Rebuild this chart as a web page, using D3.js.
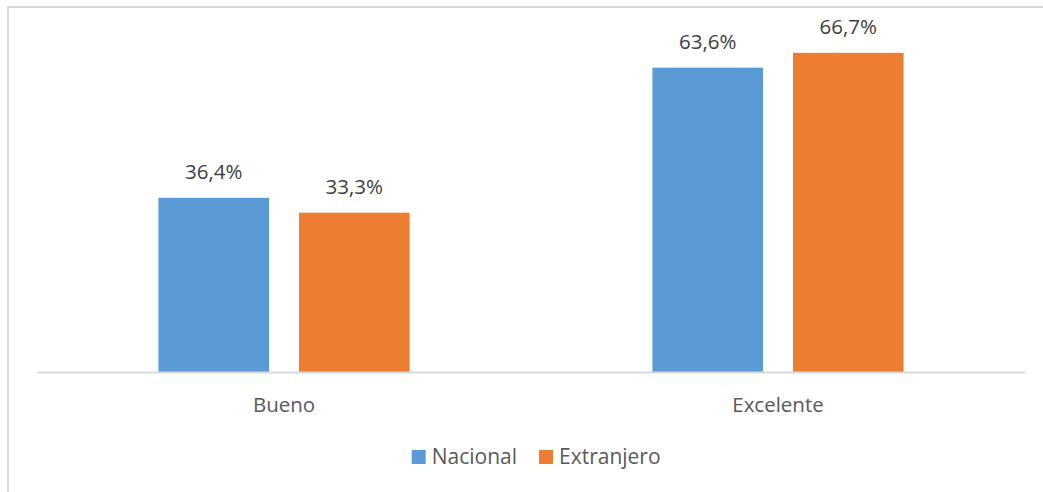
<!DOCTYPE html>
<html><head><meta charset="utf-8">
<script src="https://cdn.jsdelivr.net/npm/d3@7/dist/d3.min.js"></script>
<style>body{margin:0;background:#fff}svg{display:block}</style>
</head><body><svg id="c" width="1043" height="492"></svg>
<script>
const categories = ["Bueno", "Excelente"];
const seriesNames = ["Nacional", "Extranjero"];
const nacional = [36.4, 63.6];
const extranjero = [33.3, 66.7];
const colors = ["#5B9BD5", "#ED7D31"];

const svg = d3.select("#c");
const font = "'Open Sans', sans-serif";
// frame
svg.append("rect").attr("x", 8).attr("y", 7).attr("width", 1100).attr("height", 600)
  .attr("fill", "none").attr("stroke", "#d9d9d9").attr("stroke-width", 2);

const left = 37, right = 1025, base = 372;
const x0 = d3.scaleBand().domain(categories).range([left, right]).paddingInner(0).paddingOuter(0);
const y = d3.scaleLinear().domain([0, 70]).range([base, base - 70 * 4.785]);
const barW = 110.6, gap = 30;

const data = categories.map((c, i) => ({c, vals: [nacional[i], extranjero[i]]}));
data.forEach(d => {
  const cx = x0(d.c) + x0.bandwidth() / 2;
  d.vals.forEach((v, j) => {
    const bx = j === 0 ? cx - gap / 2 - barW : cx + gap / 2;
    svg.append("rect").attr("x", bx).attr("y", y(v)).attr("width", barW).attr("height", base - y(v))
      .attr("fill", colors[j]);
    svg.append("text").attr("x", bx + barW / 2).attr("y", y(v) - 18.5)
      .attr("text-anchor", "middle").attr("font-family", font).attr("font-size", 20.5)
      .attr("fill", "#404040").text(d3.format(".1f")(v).replace(".", ",") + "%");
  });
});

// axis
const ax = svg.append("g").attr("transform", `translate(0,${base})`)
  .call(d3.axisBottom(x0).tickSize(0).tickPadding(20));
ax.select(".domain").attr("stroke", "#d9d9d9").attr("stroke-width", 2);
ax.selectAll("text").attr("font-family", font).attr("font-size", 20.5).attr("fill", "#595959")
  .attr("dy", "0").attr("y", 39.5);

// legend
const legendX = [411.7, 539];
seriesNames.forEach((s, j) => {
  svg.append("rect").attr("x", legendX[j]).attr("y", 450).attr("width", 14).attr("height", 14).attr("fill", colors[j]);
  svg.append("text").attr("x", legendX[j] + 20).attr("y", 463.5).attr("font-family", font)
    .attr("font-size", 21).attr("fill", "#595959").text(s);
});
</script></body></html>
